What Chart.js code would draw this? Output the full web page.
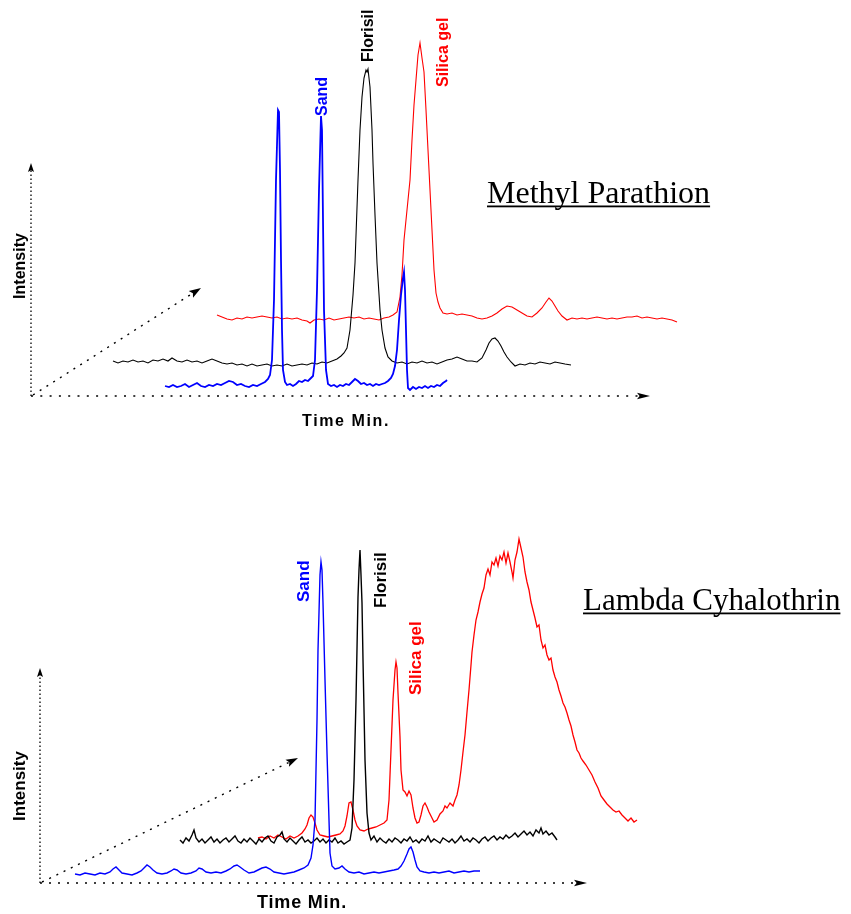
<!DOCTYPE html>
<html><head><meta charset="utf-8">
<script src="https://cdn.jsdelivr.net/npm/chart.js@4.4.0/dist/chart.umd.min.js"></script>
<style>
html,body{margin:0;padding:0;background:#fff;}
#wrap{position:relative;width:851px;height:914px;overflow:hidden;background:#fff;}
canvas{position:absolute;left:0;}
#c1{top:0;}
#c2{top:460px;}
</style></head><body>
<div id="wrap">
<canvas id="c1" width="851" height="460"></canvas>
<canvas id="c2" width="851" height="454"></canvas>
</div>
<script>
// ---- Data: [time (min), intensity] per trace, each in its own trace frame ----
const seriesNames = ['Sand', 'Florisil', 'Silica gel'];
const panelTitles = ['Methyl Parathion', 'Lambda Cyhalothrin'];
const axisTitles = ['Intensity', 'Time Min.'];

// Methyl Parathion
const mpSand = [[13.4,10],[13.8,9],[14.2,11],[14.6,9],[15.0,10],[15.4,12],[15.8,9],[16.2,11],[16.6,13],[17.0,10],[17.4,9],[17.8,11],[18.2,10],[18.6,12],[19.0,11],[19.4,13],[19.8,15],[20.2,14],[20.6,11],[21.0,12],[21.4,10],[21.8,9],[22.2,11],[22.6,10],[23.0,12],[23.4,14],[23.7,17],[23.9,21],[24.1,36],[24.3,96],[24.5,216],[24.7,286],[24.8,284],[24.9,226],[25.0,136],[25.1,66],[25.2,26],[25.4,14],[25.6,11],[25.9,12],[26.2,10],[26.5,12],[26.8,15],[27.1,14],[27.4,16],[27.7,15],[28.0,18],[28.2,20],[28.4,36],[28.6,106],[28.8,206],[29.0,280],[29.1,266],[29.2,176],[29.3,86],[29.5,26],[29.7,12],[30.0,10],[30.3,11],[30.6,9],[30.9,11],[31.2,10],[31.5,12],[31.8,11],[32.1,14],[32.4,17],[32.7,15],[33.0,12],[33.3,13],[33.6,11],[33.9,12],[34.2,10],[34.5,12],[34.8,11],[35.1,12],[35.4,13],[35.7,15],[36.0,18],[36.2,22],[36.4,30],[36.6,46],[36.8,76],[37.0,101],[37.2,118],[37.3,124],[37.4,106],[37.5,66],[37.6,26],[37.7,8],[37.9,6],[38.2,9],[38.5,7],[38.8,9],[39.1,8],[39.4,10],[39.7,8],[40.0,10],[40.3,9],[40.6,11],[40.9,10],[41.2,13],[41.5,15],[41.6,16]];
const mpFlorisil = [[4.5,12],[5.0,10],[5.5,12],[6.0,11],[6.5,13],[7.0,11],[7.5,12],[8.0,10],[8.5,13],[9.0,12],[9.5,14],[10.0,12],[10.4,15],[10.9,12],[11.4,11],[11.9,13],[12.4,11],[12.9,12],[13.4,10],[13.9,12],[14.4,14],[14.9,12],[15.4,10],[15.9,9],[16.4,10],[16.9,8],[17.4,9],[17.9,7],[18.4,9],[18.9,7],[19.4,8],[19.9,9],[20.4,7],[20.9,8],[21.4,7],[21.9,9],[22.4,7],[22.9,8],[23.4,9],[23.9,8],[24.4,10],[24.9,9],[25.4,11],[25.9,10],[26.4,12],[26.9,14],[27.3,17],[27.6,20],[27.9,25],[28.2,43],[28.5,78],[28.7,110],[29.0,193],[29.2,243],[29.4,276],[29.6,295],[29.8,303],[29.9,301],[30.0,304],[30.2,286],[30.4,243],[30.5,210],[30.7,158],[30.9,110],[31.2,63],[31.4,43],[31.7,25],[32.0,16],[32.4,12],[32.9,10],[33.4,11],[33.9,9],[34.4,11],[34.9,10],[35.4,12],[35.9,10],[36.4,11],[36.9,9],[37.4,11],[37.9,13],[38.4,14],[38.9,16],[39.4,14],[39.9,12],[40.4,12],[40.9,11],[41.4,15],[41.8,23],[42.1,30],[42.4,34],[42.7,35],[43.0,32],[43.3,27],[43.6,21],[43.9,16],[44.3,11],[44.7,7],[45.2,9],[45.7,8],[46.2,10],[46.7,9],[47.2,11],[47.7,10],[48.2,9],[48.7,11],[49.2,10],[49.7,9],[50.3,8]];
const mpSilica = [[7.9,14],[8.4,12],[8.9,10],[9.4,9],[9.9,11],[10.4,10],[10.9,12],[11.4,11],[11.9,12],[12.4,13],[12.9,12],[13.4,11],[13.9,12],[14.4,10],[14.9,11],[15.4,10],[15.9,11],[16.4,9],[16.9,8],[17.2,6],[17.6,9],[18.1,10],[18.6,9],[19.1,11],[19.6,9],[20.1,10],[20.6,11],[21.1,12],[21.6,11],[22.1,12],[22.6,10],[23.1,11],[23.6,10],[24.1,9],[24.6,11],[25.1,12],[25.5,14],[25.9,17],[26.2,32],[26.4,54],[26.6,89],[26.9,119],[27.2,149],[27.4,189],[27.6,224],[27.8,249],[28.0,274],[28.2,286],[28.4,271],[28.6,257],[28.8,219],[29.0,179],[29.2,139],[29.4,99],[29.6,59],[29.8,36],[30.0,27],[30.2,21],[30.5,16],[30.9,15],[31.4,16],[31.9,14],[32.4,15],[32.9,14],[33.4,13],[33.9,11],[34.4,10],[34.9,11],[35.4,13],[35.9,16],[36.4,20],[36.9,23],[37.4,22],[37.9,19],[38.4,16],[38.9,13],[39.4,12],[39.9,16],[40.4,21],[40.8,27],[41.1,31],[41.4,28],[41.7,23],[42.0,18],[42.4,13],[42.9,9],[43.4,11],[43.9,10],[44.4,11],[44.9,10],[45.4,11],[45.9,12],[46.4,11],[46.9,10],[47.4,11],[47.9,10],[48.4,11],[48.9,12],[49.4,12],[49.9,13],[50.4,11],[50.9,12],[51.4,11],[51.9,10],[52.4,11],[52.9,10],[53.4,9],[53.9,7]];

// Lambda Cyhalothrin
const lcSand = [[3.5,9],[4.0,8],[4.5,10],[5.0,9],[5.5,8],[6.0,10],[6.5,9],[7.0,11],[7.3,14],[7.6,16],[7.9,13],[8.2,10],[8.7,9],[9.2,8],[9.7,10],[10.1,12],[10.4,15],[10.7,18],[11.0,16],[11.3,13],[11.7,10],[12.2,9],[12.7,10],[13.1,12],[13.4,14],[13.7,13],[14.1,10],[14.6,9],[15.1,10],[15.6,12],[15.9,15],[16.2,14],[16.6,11],[17.1,10],[17.6,11],[18.1,10],[18.6,12],[19.0,14],[19.4,17],[19.7,18],[20.0,16],[20.4,13],[20.9,10],[21.4,11],[21.8,13],[22.2,15],[22.6,16],[23.0,14],[23.4,11],[23.9,10],[24.4,9],[24.9,10],[25.4,11],[25.9,13],[26.4,15],[26.8,18],[27.1,25],[27.3,38],[27.5,63],[27.7,163],[27.8,233],[28.0,308],[28.1,321],[28.2,313],[28.3,280],[28.5,203],[28.7,130],[28.9,63],[29.0,30],[29.2,17],[29.5,14],[29.9,15],[30.2,17],[30.5,14],[30.9,11],[31.4,10],[31.9,11],[32.4,9],[32.9,10],[33.4,11],[33.9,10],[34.4,11],[34.9,12],[35.4,13],[35.8,14],[36.1,17],[36.4,22],[36.7,29],[36.9,34],[37.1,36],[37.3,31],[37.5,23],[37.7,16],[38.0,12],[38.4,11],[38.9,10],[39.4,11],[39.9,10],[40.4,11],[40.9,12],[41.4,10],[41.9,11],[42.4,12],[42.9,11],[43.4,12],[44.0,12]];
const lcFlorisil = [[7.3,11],[7.6,8],[7.9,13],[8.2,10],[8.5,16],[8.7,21],[8.9,13],[9.2,9],[9.5,12],[9.8,8],[10.1,11],[10.4,14],[10.7,9],[11.0,12],[11.3,8],[11.6,11],[11.9,13],[12.2,9],[12.5,12],[12.8,15],[13.1,10],[13.4,8],[13.7,12],[14.0,9],[14.3,13],[14.6,10],[14.9,7],[15.2,12],[15.5,9],[15.8,13],[16.1,15],[16.4,10],[16.7,8],[17.0,14],[17.3,16],[17.5,19],[17.7,12],[18.0,9],[18.3,13],[18.6,10],[18.9,7],[19.2,11],[19.5,14],[19.8,9],[20.1,11],[20.4,8],[20.7,10],[21.0,13],[21.3,9],[21.6,12],[21.9,8],[22.2,11],[22.5,9],[22.8,13],[23.1,8],[23.4,10],[23.7,7],[24.0,9],[24.3,11],[24.5,23],[24.7,71],[24.9,151],[25.1,254],[25.2,281],[25.3,301],[25.4,276],[25.5,248],[25.6,191],[25.7,141],[25.8,91],[26.0,38],[26.2,18],[26.4,11],[26.7,15],[27.0,9],[27.3,13],[27.6,10],[27.9,8],[28.2,12],[28.5,9],[28.8,13],[29.1,11],[29.4,8],[29.7,12],[30.0,10],[30.3,14],[30.6,9],[30.9,11],[31.2,8],[31.5,12],[31.8,10],[32.1,15],[32.4,9],[32.7,12],[33.0,10],[33.3,8],[33.6,13],[33.9,11],[34.2,9],[34.5,12],[34.8,8],[35.1,11],[35.4,15],[35.7,10],[36.0,12],[36.3,9],[36.6,13],[36.9,11],[37.2,8],[37.5,12],[37.8,14],[38.1,10],[38.4,13],[38.7,15],[39.0,11],[39.3,14],[39.6,12],[39.9,16],[40.2,13],[40.5,15],[40.8,18],[41.1,14],[41.4,17],[41.7,20],[42.0,16],[42.3,19],[42.6,15],[42.9,21],[43.2,18],[43.4,23],[43.6,17],[43.9,20],[44.2,16],[44.5,18],[44.8,14],[45.0,11]];
const lcSilica = [[14.8,11],[15.2,12],[15.6,10],[16.0,13],[16.4,11],[16.8,14],[17.2,12],[17.6,10],[18.0,13],[18.4,11],[18.8,13],[19.2,16],[19.5,20],[19.7,24],[19.9,31],[20.1,34],[20.3,32],[20.5,26],[20.7,19],[21.0,14],[21.4,13],[21.8,12],[22.2,13],[22.6,14],[23.0,15],[23.3,18],[23.5,23],[23.7,33],[23.9,46],[24.1,47],[24.3,39],[24.5,29],[24.7,23],[25.0,19],[25.4,18],[25.8,20],[26.2,21],[26.6,22],[27.0,24],[27.4,26],[27.7,29],[27.9,49],[28.1,99],[28.3,149],[28.5,179],[28.6,187],[28.7,181],[28.8,156],[28.9,134],[29.0,112],[29.1,79],[29.3,59],[29.5,57],[29.7,53],[29.9,58],[30.1,54],[30.3,41],[30.5,31],[30.7,26],[30.9,27],[31.1,34],[31.3,43],[31.5,46],[31.7,42],[31.9,37],[32.1,33],[32.4,27],[32.7,29],[33.0,35],[33.3,38],[33.5,43],[33.7,41],[34.0,46],[34.3,43],[34.5,49],[34.7,54],[34.9,64],[35.1,79],[35.3,97],[35.5,114],[35.7,137],[35.9,159],[36.1,184],[36.2,197],[36.4,214],[36.6,229],[36.8,237],[37.0,247],[37.2,255],[37.4,261],[37.6,274],[37.8,280],[38.0,274],[38.2,287],[38.4,284],[38.6,291],[38.8,283],[39.0,293],[39.2,289],[39.4,297],[39.6,286],[39.8,296],[40.0,287],[40.2,277],[40.3,271],[40.5,289],[40.7,297],[40.9,310],[41.1,301],[41.3,292],[41.5,277],[41.7,267],[41.9,259],[42.1,247],[42.3,239],[42.5,231],[42.7,222],[42.9,224],[43.1,209],[43.3,201],[43.5,204],[43.7,194],[43.9,189],[44.1,191],[44.3,179],[44.5,172],[44.7,167],[44.9,159],[45.1,153],[45.3,146],[45.5,142],[45.7,136],[45.9,129],[46.1,123],[46.3,114],[46.5,107],[46.7,99],[46.9,96],[47.1,91],[47.3,88],[47.6,84],[47.9,79],[48.2,74],[48.5,67],[48.8,61],[49.1,53],[49.4,49],[49.7,45],[50.0,42],[50.3,39],[50.6,37],[50.9,38],[51.2,34],[51.5,31],[51.8,28],[52.1,31],[52.4,27],[52.7,29]];

// ---- Layout / style configuration (not data) ----
const COLORS = {Sand:'#0000ff', Florisil:'#000000', 'Silica gel':'#ff0000'};
const panels = [
  {
    canvas:'c1', x:[-3.1, 82.0], y:[-64, 396],
    traces:[
      {name:'Sand', data:mpSand, shift:[0,0], width:1.8},
      {name:'Florisil', data:mpFlorisil, shift:[3.7,23], width:1.1},
      {name:'Silica gel', data:mpSilica, shift:[10.7,67], width:1.1}
    ],
    axes:{xEnd:61.9, yEnd:233, depth:[17.0,108], xDash:[2,7.3], yDash:[1.5,2.5], dDash:[2,6]},
    labels:[
      {text:'Sand', at:[29.2,280]},
      {text:'Florisil', at:[33.8,334]},
      {text:'Silica gel', at:[41.3,309]}
    ],
    labelSize:16,
    title:{text:panelTitles[0], at:[45.6,193], size:32},
    yTitle:{at:[-1.0,130], size:16},
    xTitle:{at:[31.5,-26], size:16, spacing:'1.6px'}
  },
  {
    canvas:'c2', x:[-4.0, 81.1], y:[-31, 423],
    traces:[
      {name:'Sand', data:lcSand, shift:[0,0], width:1.4},
      {name:'Florisil', data:lcFlorisil, shift:[6.7,32], width:1.4},
      {name:'Silica gel', data:lcSilica, shift:[7.0,34], width:1.3}
    ],
    axes:{xEnd:54.7, yEnd:215, depth:[25.8,125], xDash:[2,7], yDash:[1.5,2.5], dDash:[2,6]},
    labels:[
      {text:'Sand', at:[26.4,281]},
      {text:'Florisil', at:[34.1,275]},
      {text:'Silica gel', at:[37.6,188]}
    ],
    labelSize:17,
    title:{text:panelTitles[1], at:[54.3,273], size:31},
    yTitle:{at:[-2.0,97], size:17},
    xTitle:{at:[26.2,-20], size:18, spacing:'0.8px'}
  }
];

const SANS = '"Liberation Sans", Arial, sans-serif';
const SERIF = '"Liberation Serif", "Times New Roman", serif';

function dotted(ctx, x0, y0, x1, y1, dash, lw){
  ctx.save();
  ctx.setLineDash(dash);
  ctx.lineWidth = lw;
  ctx.strokeStyle = '#000';
  ctx.beginPath(); ctx.moveTo(x0, y0); ctx.lineTo(x1, y1); ctx.stroke();
  ctx.restore();
}
function arrowHead(ctx, x0, y0, x1, y1, len, half){
  const a = Math.atan2(y1 - y0, x1 - x0);
  ctx.save();
  ctx.translate(x1, y1); ctx.rotate(a);
  ctx.fillStyle = '#000';
  ctx.beginPath();
  ctx.moveTo(0, 0); ctx.lineTo(-len, -half); ctx.lineTo(-len * 0.8, 0); ctx.lineTo(-len, half);
  ctx.closePath(); ctx.fill();
  ctx.restore();
}
function shorten(x0, y0, x1, y1, d){
  const L = Math.hypot(x1 - x0, y1 - y0);
  return [x1 - (x1 - x0) * d / L, y1 - (y1 - y0) * d / L];
}

const decor = {
  id:'decor',
  beforeDatasetsDraw(chart, args, opts){
    const p = opts.panel, ctx = chart.ctx;
    const X = v => chart.scales.x.getPixelForValue(v);
    const Y = v => chart.scales.y.getPixelForValue(v);
    const ox = X(0), oy = Y(0);
    const xe = X(p.axes.xEnd);
    let e = shorten(ox, oy, xe, oy, 10);
    dotted(ctx, ox, oy, e[0], e[1], p.axes.xDash, 1.7);
    arrowHead(ctx, ox, oy, xe, oy, 13, 3.2);
    const ye = Y(p.axes.yEnd);
    e = shorten(ox, oy, ox, ye, 7);
    dotted(ctx, ox, oy, e[0], e[1], p.axes.yDash, 1.3);
    arrowHead(ctx, ox, oy, ox, ye, 9, 3);
    const dx = X(p.axes.depth[0]), dy = Y(p.axes.depth[1]);
    e = shorten(ox, oy, dx, dy, 9);
    dotted(ctx, ox + 2, oy - 1, e[0], e[1], p.axes.dDash, 1.4);
    arrowHead(ctx, ox, oy, dx, dy, 12, 4);
  },
  afterDatasetsDraw(chart, args, opts){
    const p = opts.panel, ctx = chart.ctx;
    const X = v => chart.scales.x.getPixelForValue(v);
    const Y = v => chart.scales.y.getPixelForValue(v);
    ctx.save();
    p.labels.forEach(l => {
      ctx.save();
      ctx.translate(X(l.at[0]), Y(l.at[1]));
      ctx.rotate(-Math.PI / 2);
      ctx.font = 'bold ' + p.labelSize + 'px ' + SANS;
      ctx.fillStyle = COLORS[l.text];
      ctx.textAlign = 'left'; ctx.textBaseline = 'middle';
      ctx.fillText(l.text, 0, 0);
      ctx.restore();
    });
    ctx.save();
    ctx.translate(X(p.yTitle.at[0]), Y(p.yTitle.at[1]));
    ctx.rotate(-Math.PI / 2);
    ctx.font = 'bold ' + p.yTitle.size + 'px ' + SANS;
    ctx.fillStyle = '#000'; ctx.textAlign = 'center'; ctx.textBaseline = 'middle';
    ctx.fillText(axisTitles[0], 0, 0);
    ctx.restore();
    ctx.save();
    ctx.font = 'bold ' + p.xTitle.size + 'px ' + SANS;
    ctx.letterSpacing = p.xTitle.spacing;
    ctx.fillStyle = '#000'; ctx.textAlign = 'center'; ctx.textBaseline = 'middle';
    ctx.fillText(axisTitles[1], X(p.xTitle.at[0]), Y(p.xTitle.at[1]));
    ctx.restore();
    ctx.font = p.title.size + 'px ' + SERIF;
    ctx.fillStyle = '#000'; ctx.textAlign = 'left'; ctx.textBaseline = 'alphabetic';
    const tx = X(p.title.at[0]), ty = Y(p.title.at[1]);
    ctx.fillText(p.title.text, tx, ty);
    const w = ctx.measureText(p.title.text).width;
    ctx.fillRect(tx, ty + 2.5, w, 1.8);
    ctx.restore();
  }
};

panels.forEach(p => {
  new Chart(document.getElementById(p.canvas), {
    type:'line',
    data:{
      datasets:p.traces.map(tr => ({
        label:tr.name,
        data:tr.data.map(([t, v]) => ({x:t + tr.shift[0], y:v + tr.shift[1]})),
        borderColor:COLORS[tr.name],
        borderWidth:tr.width,
        pointRadius:0,
        tension:0,
        fill:false
      }))
    },
    options:{
      responsive:false,
      animation:false,
      events:[],
      layout:{padding:0},
      scales:{
        x:{type:'linear', display:false, min:p.x[0], max:p.x[1]},
        y:{type:'linear', display:false, min:p.y[0], max:p.y[1]}
      },
      plugins:{legend:{display:false}, tooltip:{enabled:false}, decor:{panel:p}}
    },
    plugins:[decor]
  });
});
</script>
</body></html>
